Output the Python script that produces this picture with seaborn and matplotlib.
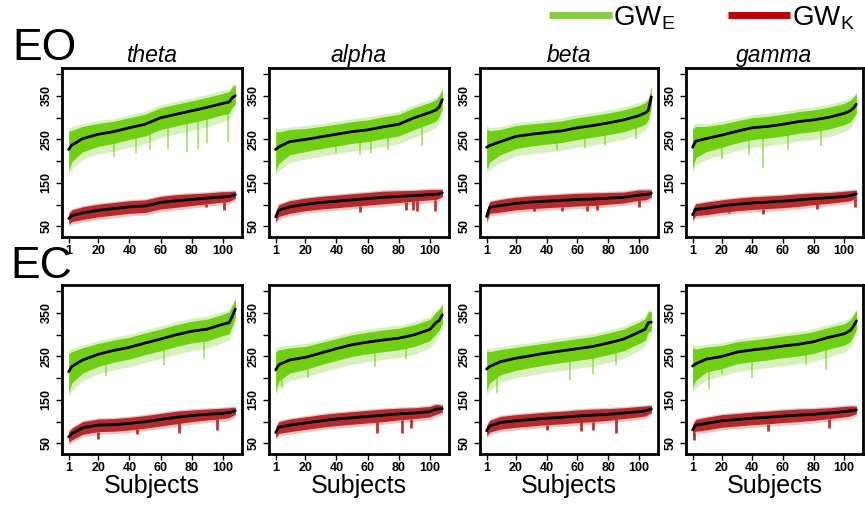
import numpy as np
import seaborn as sns
import matplotlib
matplotlib.use("Agg")
from matplotlib import pyplot as plt
from matplotlib.lines import Line2D

subj = [1, 3, 10, 20, 30, 40, 50, 60, 70, 80, 90, 100, 104, 106, 108]

# EO (eyes open) mean GW_E / GW_K per band
eo_theta_e = [227, 237, 252, 262, 268, 277, 285, 300, 308, 316, 324, 333, 336, 346, 351]
eo_theta_k = [68, 75, 81, 87, 91, 95, 97, 105, 109, 112, 115, 118, 119, 121, 123]
eo_alpha_e = [227, 233, 245, 250, 256, 262, 268, 272, 279, 285, 300, 312, 318, 325, 342]
eo_alpha_k = [72, 87, 95, 101, 105, 108, 111, 114, 117, 119, 121, 123, 124, 125, 127]
eo_beta_e = [232, 236, 245, 257, 262, 266, 270, 277, 282, 288, 295, 305, 311, 317, 348]
eo_beta_k = [73, 94, 98, 103, 106, 108, 110, 112, 113, 115, 117, 122, 123, 124, 126]
eo_gamma_e = [232, 246, 252, 260, 269, 277, 280, 285, 291, 295, 301, 310, 316, 322, 331]
eo_gamma_k = [77, 89, 92, 97, 101, 104, 106, 108, 111, 114, 116, 119, 121, 123, 125]

# EC (eyes closed)
ec_theta_e = [215, 227, 242, 255, 264, 271, 281, 290, 300, 308, 313, 324, 328, 342, 359]
ec_theta_k = [65, 72, 86, 92, 93, 96, 100, 105, 110, 114, 117, 119, 121, 123, 125]
ec_alpha_e = [219, 231, 242, 248, 258, 268, 277, 283, 288, 292, 300, 312, 328, 333, 346]
ec_alpha_k = [75, 87, 92, 97, 102, 106, 109, 112, 115, 118, 120, 123, 129, 129, 130]
ec_beta_e = [221, 227, 238, 246, 252, 258, 263, 268, 273, 281, 290, 306, 313, 328, 329]
ec_beta_k = [79, 90, 98, 102, 105, 108, 110, 113, 115, 117, 120, 123, 125, 127, 129]
ec_gamma_e = [228, 233, 244, 250, 260, 265, 269, 274, 278, 284, 294, 302, 310, 319, 332]
ec_gamma_k = [81, 92, 96, 102, 105, 108, 110, 113, 115, 117, 120, 123, 125, 126, 127]

# spread of the single-trial cloud around the mean (offsets)
e_hi = [42, 34, 28, 25, 24, 23, 23, 23, 23, 23, 23, 23, 24, 25, 24]
e_lo = [-50, -38, -30, -28, -27, -27, -27, -27, -27, -27, -27, -26, -26, -22, -20]
e_hi_out = [50, 42, 34, 32, 30, 30, 30, 30, 30, 30, 30, 30, 30, 30, 28]
e_lo_out = [-60, -55, -48, -45, -45, -45, -45, -45, -45, -45, -45, -42, -40, -35, -30]
k_hi = [12, 13, 14, 14, 14, 14, 14, 14, 14, 13, 12, 12, 11, 10, 8]
k_lo = [-12, -14, -15, -15, -15, -15, -15, -15, -15, -14, -13, -12, -12, -10, -8]

# visible downward spikes (subject, lowest value) in each panel
eo_theta_e_dip = [(10, 225), (30, 210), (44, 218), (53, 225), (65, 229), (77, 221), (84, 229), (90, 241), (103, 245)]
eo_theta_k_dip = [(89, 95), (101, 87)]
eo_alpha_e_dip = [(12, 215), (40, 220), (55, 215), (62, 218), (73, 225), (95, 235)]
eo_alpha_k_dip = [(55, 83), (85, 87), (89, 87), (92, 85), (103, 85)]
eo_beta_e_dip = [(2, 185), (47, 225), (65, 230), (78, 235), (98, 250)]
eo_beta_k_dip = [(32, 85), (50, 85), (66, 85), (73, 87), (100, 95)]
eo_gamma_e_dip = [(20, 205), (38, 215), (47, 185), (63, 225), (85, 235)]
eo_gamma_k_dip = [(25, 80), (47, 78), (82, 90), (107, 95)]
ec_theta_e_dip = [(25, 205), (62, 230), (88, 245)]
ec_theta_k_dip = [(20, 60), (45, 72), (72, 75), (96, 80)]
ec_alpha_e_dip = [(5, 180), (22, 200), (65, 225), (85, 245)]
ec_alpha_k_dip = [(66, 75), (82, 73), (88, 85)]
ec_beta_e_dip = [(8, 165), (55, 195), (70, 210), (85, 230)]
ec_beta_k_dip = [(40, 80), (62, 78), (70, 80), (85, 75)]
ec_gamma_e_dip = [(12, 175), (20, 210), (40, 200), (75, 230), (88, 220)]
ec_gamma_k_dip = [(2, 58), (50, 78), (90, 85)]

bands = ["theta", "alpha", "beta", "gamma"]
rows = [("EO", [(eo_theta_e, eo_theta_k, eo_theta_e_dip, eo_theta_k_dip),
                (eo_alpha_e, eo_alpha_k, eo_alpha_e_dip, eo_alpha_k_dip),
                (eo_beta_e, eo_beta_k, eo_beta_e_dip, eo_beta_k_dip),
                (eo_gamma_e, eo_gamma_k, eo_gamma_e_dip, eo_gamma_k_dip)]),
        ("EC", [(ec_theta_e, ec_theta_k, ec_theta_e_dip, ec_theta_k_dip),
                (ec_alpha_e, ec_alpha_k, ec_alpha_e_dip, ec_alpha_k_dip),
                (ec_beta_e, ec_beta_k, ec_beta_e_dip, ec_beta_k_dip),
                (ec_gamma_e, ec_gamma_k, ec_gamma_e_dip, ec_gamma_k_dip)])]

sns.set_style("white")
plt.rcParams['font.family'] = ['Liberation Sans', 'DejaVu Sans']
plt.rcParams['text.color'] = 'black'
plt.rcParams['xtick.color'] = 'black'
plt.rcParams['ytick.color'] = 'black'
plt.rcParams['axes.labelcolor'] = 'black'

W, H = 865, 507
fig = plt.figure(figsize=(W / 100, H / 100), dpi=100)

lefts = [62, 269, 480, 686]
widths = [180, 180, 178, 177]
tops = [68, 285]
ht = 169

green = "#66cc00"
red = "#b22222"

x = np.array(subj)
for r, (cond, panels) in enumerate(rows):
    for c, (ye, yk, de, dk) in enumerate(panels):
        ax = fig.add_axes([lefts[c] / W, (H - tops[r] - ht) / H, widths[c] / W, ht / H])
        ye = np.array(ye)
        yk = np.array(yk)
        ax.fill_between(x, ye + e_lo_out, ye + e_hi_out, color="#a8e070", alpha=0.45, lw=0)
        ax.fill_between(x, ye + e_lo, ye + e_hi, color=green, alpha=0.9, lw=0)
        ax.fill_between(x, yk + np.array(k_lo) - 6, yk + np.array(k_hi) + 3,
                        color="#d47a7a", alpha=0.45, lw=0)
        ax.fill_between(x, yk + k_lo, yk + k_hi, color=red, alpha=0.95, lw=0)

        # spikes below the dense part of each cloud
        ds, dv = zip(*de)
        ax.vlines(ds, dv, np.interp(ds, x, ye + e_lo), color=green, lw=1.2, alpha=0.6)
        ds, dv = zip(*dk)
        ax.vlines(ds, dv, np.interp(ds, x, yk + k_lo), color=red, lw=2.0, alpha=0.9)

        sns.lineplot(x=x, y=ye, ax=ax, color="black", lw=2)
        sns.lineplot(x=x, y=yk, ax=ax, color="black", lw=2)

        ax.set_xlim(-3.3, 112.3)
        ax.set_ylim(25.6, 414.4)
        ax.set_xticks([1, 20, 40, 60, 80, 100])
        ax.set_xticklabels(["1", "20", "40", "60", "80", "100"], fontsize=9, fontweight="bold")
        ax.set_yticks([50, 100, 150, 200, 250, 300, 350, 400])
        ax.set_yticklabels(["50", "", "150", "", "250", "", "350", ""],
                           fontsize=9, fontweight="bold", rotation=90, va="center")
        ax.tick_params(axis="both", direction="out", length=4, width=1, color="black",
                       left=True, bottom=True, pad=2)
        ax.tick_params(axis="y", pad=3)
        for s in ax.spines.values():
            s.set_linewidth(2)
            s.set_color("black")
        ax.set_xlabel("")
        ax.set_ylabel("")
        if r == 0:
            ax.set_title(bands[c], fontsize=16.5, style="italic", pad=4)
        else:
            ax.set_xlabel("Subjects", fontsize=18, labelpad=0)

fig.text(12 / W, 1 - 60 / H, "EO", fontsize=32, va="baseline", ha="left")
fig.text(10 / W, 1 - 278 / H, "EC", fontsize=32, va="baseline", ha="left")

handles = [Line2D([], [], color="#88cc44", lw=5, solid_capstyle="butt"),
           Line2D([], [], color="#c00000", lw=5, solid_capstyle="butt")]
fig.legend(handles, [r"GW$_\mathregular{E}$", r"GW$_\mathregular{K}$"],
           loc="upper left", bbox_to_anchor=(549 / W, 1 - 4 / H), ncol=2, frameon=False,
           fontsize=20, handlelength=2.25, handletextpad=0.05, columnspacing=1.9,
           borderpad=0, borderaxespad=0)

fig.savefig("out.png", dpi=100)
